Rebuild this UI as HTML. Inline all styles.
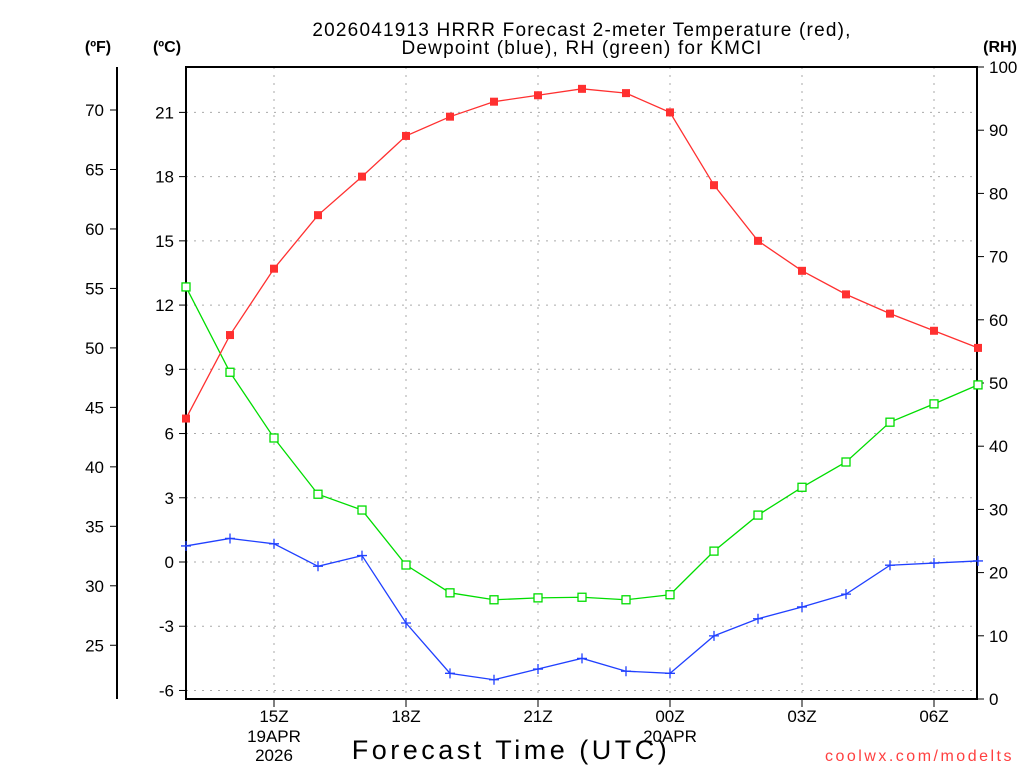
<!DOCTYPE html>
<html><head><meta charset="utf-8"><style>
html,body{margin:0;padding:0;background:#fff;}
svg text{font-family:"Liberation Sans","DejaVu Sans",sans-serif;}
</style></head><body>
<svg id="chart" width="1024" height="768" viewBox="0 0 1024 768" xmlns="http://www.w3.org/2000/svg">
<text x="582" y="36" font-size="19" letter-spacing="1.2" text-anchor="middle">2026041913 HRRR Forecast 2-meter Temperature (red),</text>
<text x="582" y="54" font-size="19" letter-spacing="1.2" text-anchor="middle">Dewpoint (blue), RH (green) for KMCI</text>
<text x="98" y="52" font-size="16" font-weight="bold" text-anchor="middle">(ºF)</text>
<text x="167" y="52" font-size="16" font-weight="bold" text-anchor="middle">(ºC)</text>
<text x="1000" y="52" font-size="16" font-weight="bold" text-anchor="middle">(RH)</text>
<text x="511" y="759" font-size="27" text-anchor="middle" letter-spacing="3.5">Forecast Time (UTC)</text>
<text x="1014" y="761" font-size="16" fill="#ff4040" text-anchor="end" letter-spacing="2.5">coolwx.com/modelts</text>
<g id="grid"></g><g id="axes"></g><g id="series"></g>
</svg>
<script>
const hours = [13,14,15,16,17,18,19,20,21,22,23,24,25,26,27,28,29,30,31];
const tempC = [6.7,10.6,13.7,16.2,18.0,19.9,20.8,21.5,21.8,22.1,21.9,21.0,17.6,15.0,13.6,12.5,11.6,10.8,10.0];
const dewC = [0.75,1.1,0.85,-0.2,0.3,-2.85,-5.2,-5.5,-5.0,-4.5,-5.1,-5.2,-3.45,-2.65,-2.1,-1.5,-0.15,-0.05,0.05];
const rh = [65.2,51.7,41.3,32.4,29.9,21.2,16.8,15.7,16.0,16.1,15.7,16.5,23.4,29.1,33.5,37.5,43.8,46.7,49.7];
const cTicks = [-6,-3,0,3,6,9,12,15,18,21];
const fTicks = [25,30,35,40,45,50,55,60,65,70];
const rhTicks = [0,10,20,30,40,50,60,70,80,90,100];
const xTickHours = [15,18,21,24,27,30];
const xTickLabels = ["15Z","18Z","21Z","00Z","03Z","06Z"];

const L=186,R=977,T=67,B=699;
const NS="http://www.w3.org/2000/svg";
const xS=h=>L+(h-13)*44;
const yC=c=>562-c*21.41;
const yF=f=>yC((f-32)/1.8);
const yR=r=>B-(r/100)*(B-T);
function el(tag,attrs,parent,text){const e=document.createElementNS(NS,tag);for(const k in attrs)e.setAttribute(k,attrs[k]);if(text!==undefined)e.textContent=text;parent.appendChild(e);return e;}
const grid=document.getElementById('grid'),axes=document.getElementById('axes'),series=document.getElementById('series');

cTicks.forEach(c=>{const y=yC(c);
 const g=el('line',{x1:L,x2:R,y1:y,y2:y,stroke:'#aaa','stroke-dasharray':'2,6'},grid);
 
 
 el('line',{x1:L-7,x2:L,y1:y,y2:y,stroke:'#000'},axes);
 const t=el('text',{x:L-12,y:y+6,'font-size':17,'text-anchor':'end'},axes,String(c));
 
 
});
fTicks.forEach(f=>{const y=yF(f);
 el('line',{x1:110,x2:117,y1:y,y2:y,stroke:'#000'},axes);
 const t=el('text',{x:104,y:y+6,'font-size':17,'text-anchor':'end'},axes,String(f));
 
 
});
rhTicks.forEach(r=>{const y=yR(r);
 el('line',{x1:R,x2:R+7,y1:y,y2:y,stroke:'#000'},axes);
 const t=el('text',{x:989,y:y+6,'font-size':17},axes,String(r));
 
 
});
xTickHours.forEach((h,i)=>{const x=xS(h);
 const g=el('line',{x1:x,x2:x,y1:T,y2:B,stroke:'#aaa','stroke-dasharray':'2,6'},grid);
 
 
 el('line',{x1:x,x2:x,y1:B,y2:B+8,stroke:'#000'},axes);
 const t=el('text',{x:x,y:722,'font-size':17,'text-anchor':'middle'},axes,xTickLabels[i]);
 
 
});
[["19APR",274,742],["2026",274,761],["20APR",670,742]].forEach(d=>{
 const t=el('text',{x:d[1],y:d[2],'font-size':17,'text-anchor':'middle'},axes,d[0]);
 
 
});
const frame=el('rect',{x:L,y:T,width:R-L,height:B-T,fill:'none',stroke:'#000','stroke-width':2},axes);


const fax=el('line',{x1:117,x2:117,y1:T,y2:B,stroke:'#000','stroke-width':2},axes);



function draw(vals,yf,color,name,marker){
 const pts=hours.map((h,i)=>xS(h)+','+yf(vals[i])).join(' ');
 const pl=el('polyline',{points:pts,fill:'none',stroke:color,'stroke-width':1.3},series);
 
 
 hours.forEach((h,i)=>{const x=xS(h),y=yf(vals[i]);let m;
  if(marker==='fill')m=el('rect',{x:x-4,y:y-4,width:8,height:8,fill:color},series);
  else if(marker==='open')m=el('rect',{x:x-4,y:y-4,width:8,height:8,fill:'#fff',stroke:color,'stroke-width':1.3},series);
  else m=el('path',{d:`M${x-5},${y}H${x+5}M${x},${y-5}V${y+5}`,stroke:color,'stroke-width':1.3},series);
  
  
 });
}
draw(rh,yR,'#00dd00','rh','open');
draw(dewC,yC,'#2040ff','dewpoint','plus');
draw(tempC,yC,'#ff3030','temperature','fill');
</script>
</body></html>
